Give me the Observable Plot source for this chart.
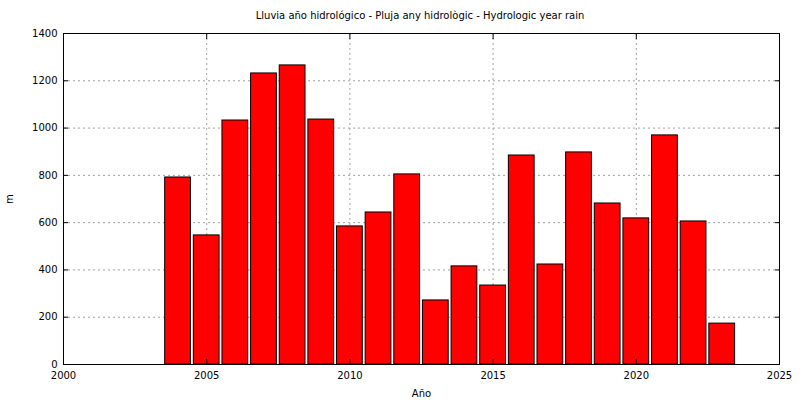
<!DOCTYPE html>
<html>
<head>
<meta charset="utf-8">
<script src="https://cdn.jsdelivr.net/npm/d3@7"></script>
<script src="https://cdn.jsdelivr.net/npm/@observablehq/plot@0.6"></script>
<style>
  html, body { margin: 0; padding: 0; background: #fff; }
  #title { font: 10px "DejaVu Sans", sans-serif; text-align: center; width: 800px; height: 26px; line-height: 32px; color: #000; padding-left: 40px; box-sizing: border-box; }
</style>
</head>
<body>
<div id="title">Lluvia año hidrológico - Pluja any hidrològic - Hydrologic year rain</div>
<div id="chart"></div>
<script>
const years = [2004, 2005, 2006, 2007, 2008, 2009, 2010, 2011, 2012, 2013, 2014, 2015, 2016, 2017, 2018, 2019, 2020, 2021, 2022, 2023];
const rain  = [791, 546, 1032, 1231, 1265, 1036, 584, 643, 804, 271, 415, 334, 884, 423, 897, 681, 618, 969, 605, 173];
const xTicks = [2000, 2005, 2010, 2015, 2020, 2025];
const yTicks = [0, 200, 400, 600, 800, 1000, 1200, 1400];

const data = years.map((y, i) => ({year: y, value: rain[i]}));
const halfWidth = 0.45;

const chart = Plot.plot({
  width: 800,
  height: 374,
  marginLeft: 63,
  marginRight: 21,
  marginTop: 7,
  marginBottom: 36,
  style: {fontFamily: "DejaVu Sans, sans-serif", fontSize: "10px", color: "#000", background: "#fff"},
  x: {domain: [2000, 2025]},
  y: {domain: [0, 1400]},
  marks: [
    Plot.ruleX(xTicks.slice(1, -1), {stroke: "#a0a0a0", strokeDasharray: "2,3", strokeWidth: 1}),
    Plot.ruleY(yTicks.slice(1, -1), {stroke: "#a0a0a0", strokeDasharray: "2,3", strokeWidth: 1}),
    Plot.rectY(data, {x1: d => d.year - halfWidth, x2: d => d.year + halfWidth, y1: 0, y2: "value", fill: "#ff0000", stroke: "#000", strokeWidth: 1}),
    Plot.axisX(xTicks, {anchor: "bottom", tickSize: -5, tickPadding: 12, tickFormat: d => String(d), label: "Año", labelAnchor: "center", labelArrow: "none", labelOffset: 32, stroke: "#000"}),
    Plot.axisX(xTicks, {anchor: "top", tickSize: -5, tickFormat: () => "", label: null, stroke: "#000"}),
    Plot.axisY(yTicks, {anchor: "left", tickSize: -5, tickPadding: 11, tickFormat: d => String(d), label: "m", labelAnchor: "center", labelArrow: "none", labelOffset: 58, stroke: "#000"}),
    Plot.axisY(yTicks, {anchor: "right", tickSize: -5, tickFormat: () => "", label: null, stroke: "#000"}),
    Plot.frame({stroke: "#000", strokeWidth: 1})
  ]
});
document.getElementById("chart").appendChild(chart);
</script>
</body>
</html>
